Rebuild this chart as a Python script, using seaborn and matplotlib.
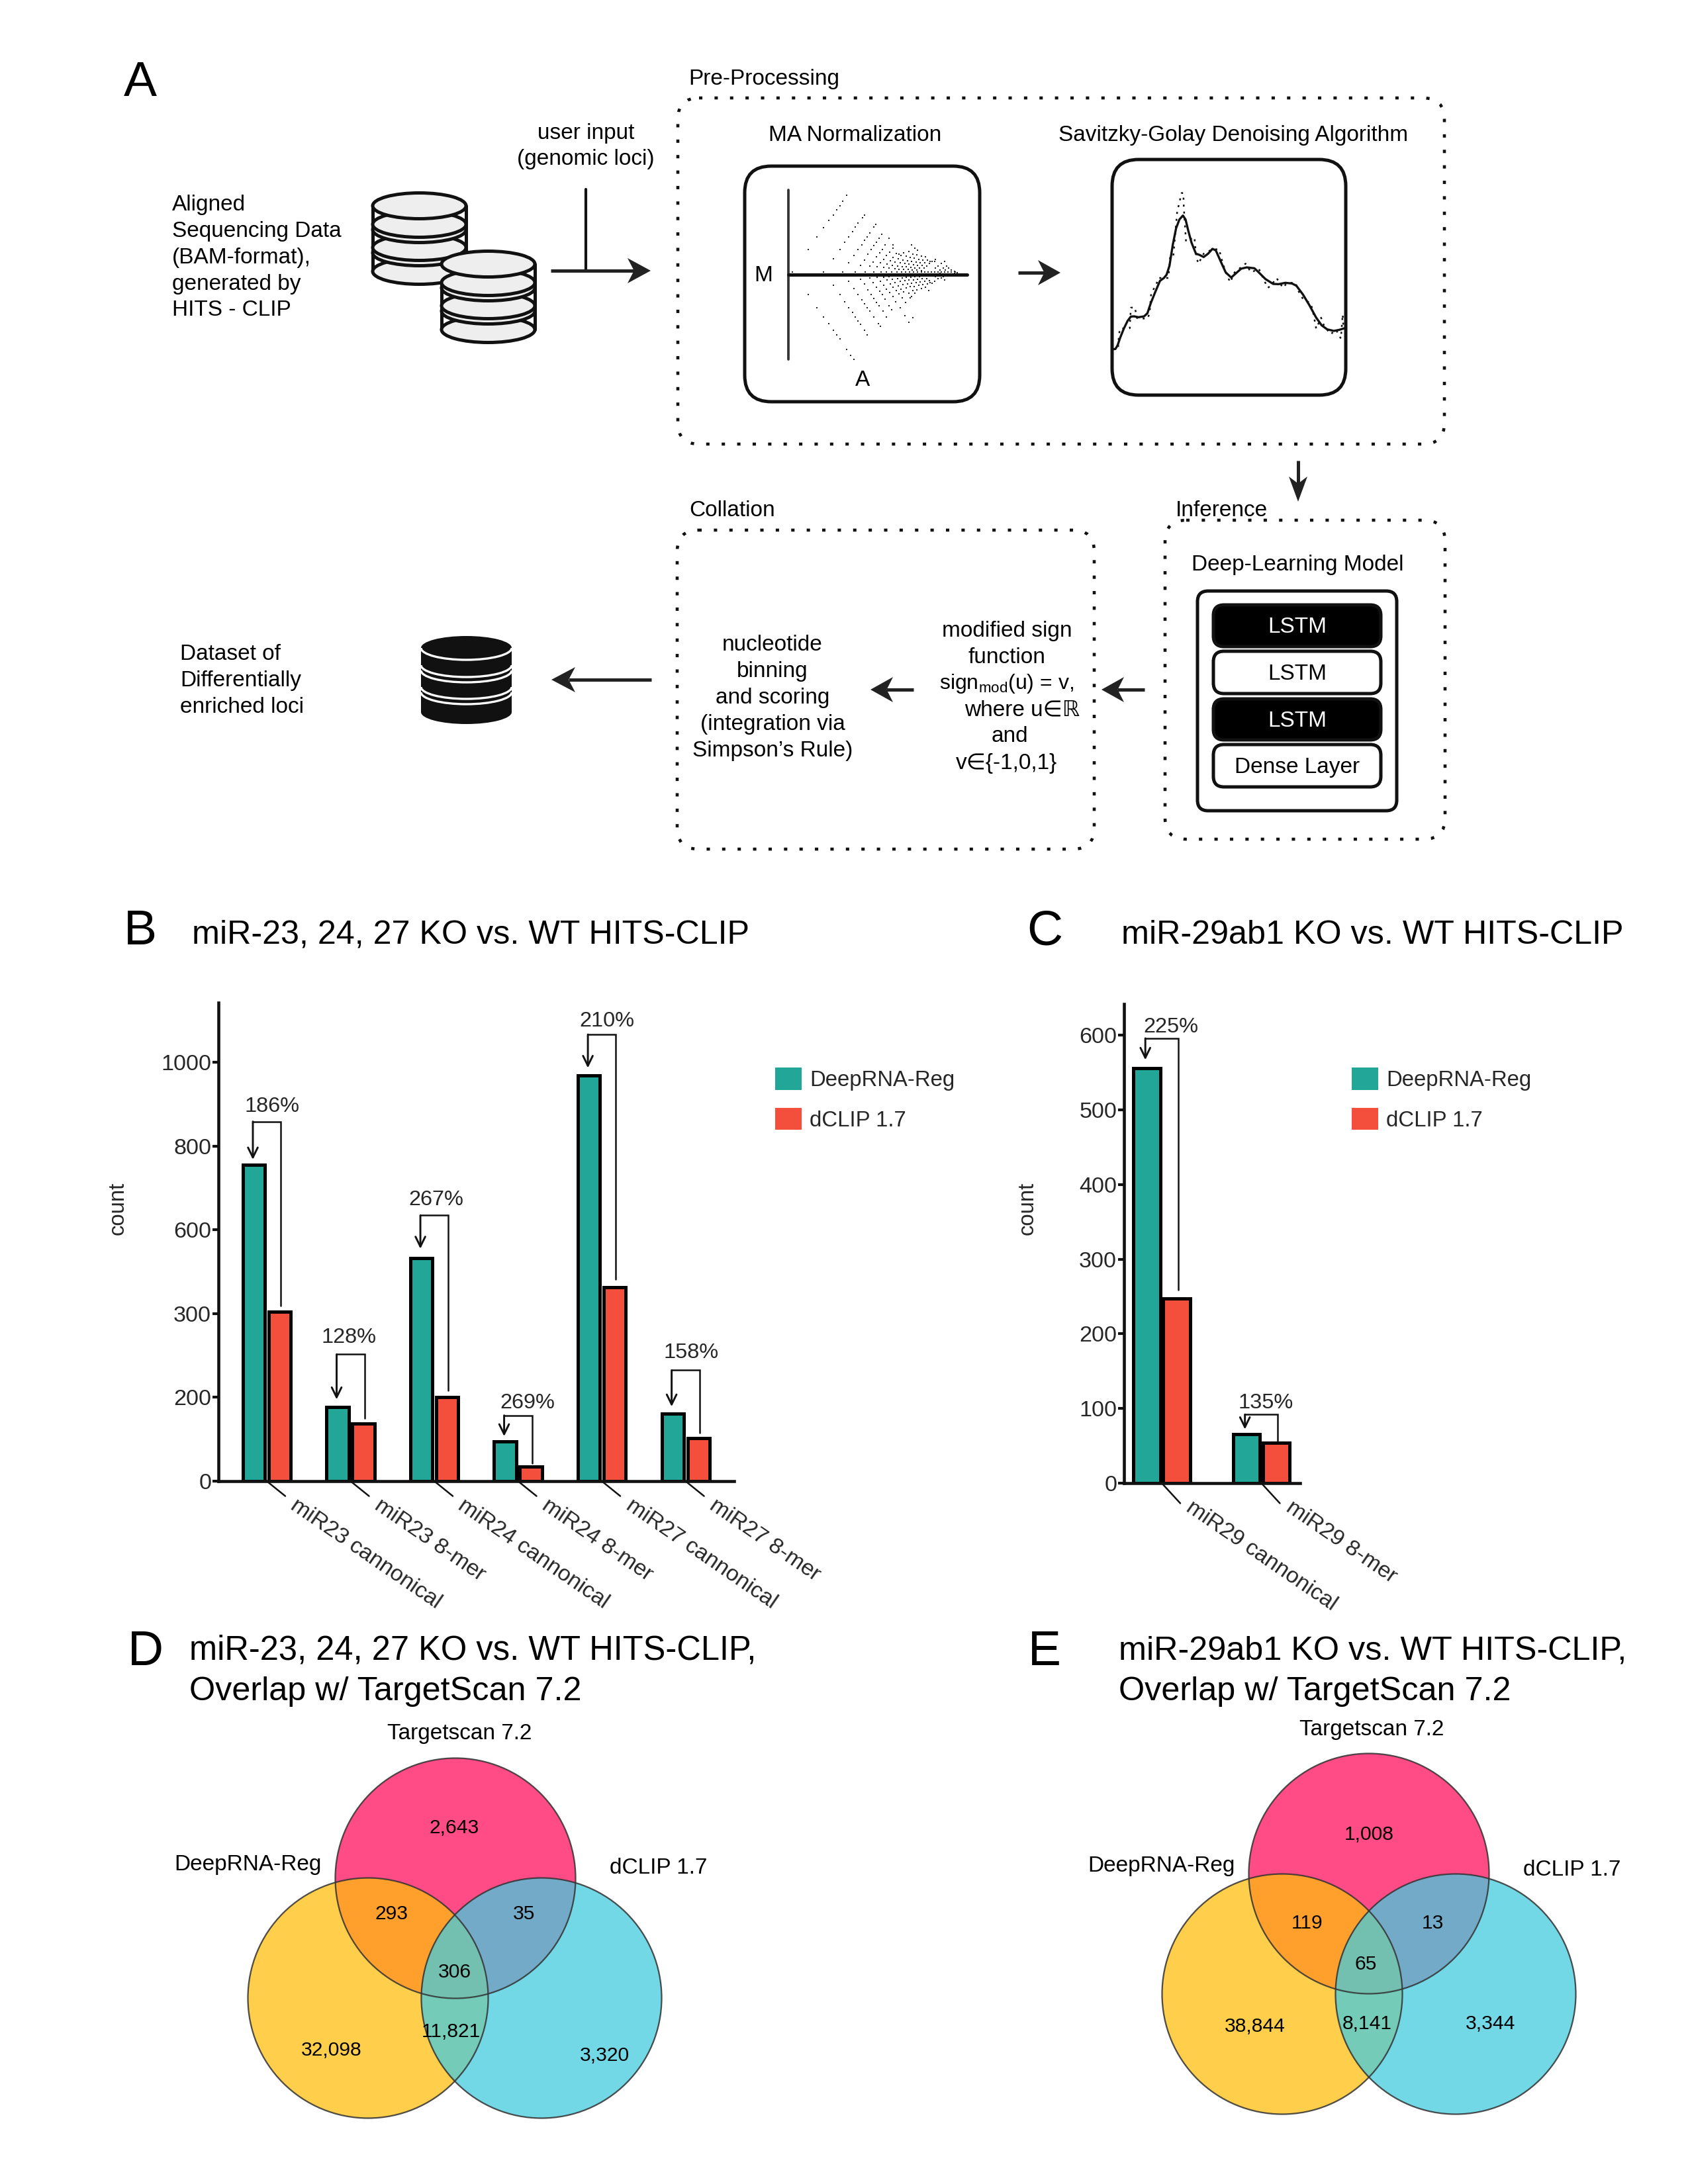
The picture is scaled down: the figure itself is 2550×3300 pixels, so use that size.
import matplotlib
matplotlib.use("Agg")
import matplotlib.pyplot as plt
import pandas as pd
import seaborn as sns
from matplotlib.patches import Arc, Circle, Ellipse, FancyBboxPatch, Patch, Polygon, Rectangle
from matplotlib.transforms import ScaledTranslation

# ---------------- data ----------------
tools = ["DeepRNA-Reg", "dCLIP 1.7"]
tool_colors = ["#22A698", "#F44E3C"]

b_categories = ["miR23 cannonical", "miR23 8-mer", "miR24 cannonical",
                "miR24 8-mer", "miR27 cannonical", "miR27 8-mer"]
b_deep = [755, 177, 532, 95, 969, 161]
b_dclip = [405, 137, 200, 35, 463, 102]
b_pct = ["186%", "128%", "267%", "269%", "210%", "158%"]
b_top = [859, 303, 635, 157, 1067, 265]
b_tip = [768, 195, 555, 107, 987, 178]
b_end = [419, 150, 216, 42, 482, 116]
b_lab_y = [895, 343, 672, 186, 1098, 306]
b_lab_dx = [0.06, -0.02, 0.02, 0.11, 0.06, 0.07]
b_yticks = [0, 200, 400, 600, 800, 1000]
b_yticklabels = ["0", "200", "300", "600", "800", "1000"]

c_categories = ["miR29 cannonical", "miR29 8-mer"]
c_deep = [556, 66]
c_dclip = [247, 54]
c_pct = ["225%", "135%"]
c_top = [596, 92]
c_tip = [567, 72]
c_end = [259, 57]
c_lab_y = [611, 107]
c_lab_dx = [0.095, 0.047]
c_yticks = [0, 100, 200, 300, 400, 500, 600]

venn_names = ["Targetscan 7.2", "DeepRNA-Reg", "dCLIP 1.7"]
venn_colors = [(255/255, 14/255, 93/255), (255/255, 190/255, 15/255), (68/255, 203/255, 222/255)]
venn_d_values = ["2,643", "293", "35", "306", "11,821", "32,098", "3,320"]
venn_e_values = ["1,008", "119", "13", "65", "8,141", "38,844", "3,344"]

lstm_layers = ["LSTM", "LSTM", "LSTM", "Dense Layer"]

# MA plot dots: abscissa / ordinate read from the schematic
ma_row_a = [50, 193, 278, 335, 382, 421, 452, 478, 500, 525, 545, 565, 583, 600, 618, 635, 650,
            665, 680, 695, 710, 725, 740, 755, 770, 790]
ma_up = [(122,291),(163,233),(193,191),(215,158),(236,134),(251,111),(266,92),(279,73),(296,44),
         (236,333),(266,291),(289,259),(306,233),(324,210),(336,190),(348,172),(368,148),(378,134),
         (306,350),(330,319),(348,291),(366,269),(378,250),(391,233),(402,216),(421,190),(428,178),
         (360,362),(378,339),(393,312),(408,291),(421,273),(433,257),(445,240),(456,222),
         (402,365),(418,347),(432,325),(447,307),(460,291),(472,270),(488,240),
         (436,370),(450,352),(465,335),(478,318),(492,302),(507,285),(507,270),
         (465,372),(480,358),(495,342),(508,327),(522,310),(535,312),
         (490,375),(503,362),(516,348),(530,333),(543,318),(555,305),
         (515,378),(527,366),(540,352),(553,338),(566,322),(578,300),(590,270),
         (535,380),(548,368),(560,355),(573,342),(585,328),(597,312),(605,285),
         (555,380),(568,370),(580,358),(592,345),(604,330),(615,315),(618,295),
         (575,382),(588,372),(600,360),(612,348),(624,335),(636,320),
         (595,384),(607,374),(619,362),(631,350),(643,338),(655,325),
         (615,385),(627,375),(639,364),(651,352),(663,340),(675,345),(698,335),
         (635,386),(647,376),(659,366),(671,355),(683,345),(695,345),
         (700,375),(712,365),(725,355),(740,345),(735,375),(750,365),(760,375),(770,385),
         (720,385),(745,385),(785,390),(797,395)]
ma_low = [(122,495),(163,554),(193,597),(215,628),(236,657),(251,678),(266,696),(296,743),(315,770),(330,790),
          (236,453),(266,494),(289,527),(306,554),(324,577),(336,597),(348,614),(361,630),(378,657),(391,678),
          (306,436),(330,468),(348,494),(366,518),(378,537),(391,554),(402,570),(421,597),(441,628),(451,638),
          (360,425),(378,448),(393,475),(408,494),(421,512),(433,530),(445,547),(462,570),(478,597),
          (402,420),(418,440),(432,462),(447,480),(460,494),(472,515),(488,545),(500,565),
          (436,416),(450,436),(465,452),(478,470),(492,485),(507,503),(520,527),(540,555),(560,590),(580,622),
          (465,416),(480,430),(495,446),(508,461),(522,478),(535,492),(548,510),(565,530),(596,600),
          (490,413),(503,426),(516,440),(530,455),(543,470),(555,483),(584,510),
          (515,410),(527,422),(540,436),(553,450),(566,466),(578,488),(590,505),
          (535,408),(548,420),(560,433),(573,446),(585,460),(597,476),(605,490),
          (555,408),(568,418),(580,430),(592,443),(604,458),(615,473),
          (575,406),(588,416),(600,428),(612,440),(624,453),(636,468),
          (595,404),(607,414),(619,426),(631,438),(643,450),(655,463),(668,478),
          (615,403),(627,413),(639,424),(651,436),(663,448),(675,440),
          (635,402),(647,412),(659,422),(671,433),(683,443),(695,435),
          (700,413),(712,423),(725,420),(740,430),(735,413),(750,410),(760,405),(770,408),
          (720,400),(745,403),(785,398),(797,410)]

# Savitzky-Golay picture: smoothed and raw trace read from the schematic
sg_x = [18,30,40,52,68,85,100,115,135,160,175,190,210,232,250,262,275,290,305,320,336,348,360,375,395,
        410,430,450,470,485,505,530,555,575,600,625,660,680,710,745,770,800,830,850,880,910,940,965,990,
        1020,1045,1068]
sg_y = [773,772,755,720,680,645,625,624,628,624,610,565,515,463,450,435,395,300,225,185,167,185,235,290,340,
        345,355,340,318,325,370,425,448,430,408,402,406,425,455,477,478,472,475,485,525,575,630,665,683,
        690,685,678]
raw_x = [18,42,45,50,70,95,100,118,128,175,185,192,215,225,270,278,292,310,330,338,340,350,388,395,405,417,
         430,470,500,510,525,550,570,620,645,680,720,735,760,790,805,845,860,880,915,925,940,962,975,1005,
         1030,1052,1060,1063]
raw_y = [773,770,722,680,678,678,585,583,632,635,610,520,480,450,450,355,355,150,65,65,130,285,265,340,385,365,
         340,320,320,360,410,470,425,385,425,408,495,485,450,495,475,470,510,545,565,600,680,630,665,705,
         685,725,615,665]

# ---------------- style ----------------
sns.set_theme(style="ticks")
plt.rcParams["font.family"] = ["Liberation Sans", "DejaVu Sans"]
plt.rcParams["mathtext.fontset"] = "custom"
plt.rcParams["mathtext.rm"] = "Liberation Sans"
plt.rcParams["mathtext.default"] = "rm"
W, H = 2550, 3300
BLACK = "#111111"
fig = plt.figure(figsize=(8.5, 11), dpi=300, facecolor="white")


def px_axes(x0, y0, x1, y1, **kw):
    return fig.add_axes([x0 / W, 1 - y1 / H, (x1 - x0) / W, (y1 - y0) / H], **kw)


ov = fig.add_axes([0, 0, 1, 1])
ov.set_xlim(0, W)
ov.set_ylim(H, 0)
ov.axis("off")


def T(x, y, s, size=8, ha="center", va="center", color="black", **kw):
    if va == "center":
        y = y + 2.5
    ov.text(x, y, s, fontsize=size, ha=ha, va=va, color=color, **kw)


def rbox(x0, y0, x1, y1, r, lw=1.2, fc="none", ec=BLACK, ls="-", z=2):
    ov.add_patch(FancyBboxPatch((x0, y0), x1 - x0, y1 - y0,
                                boxstyle=f"round,pad=0,rounding_size={r}",
                                fc=fc, ec=ec, lw=lw, ls=ls, zorder=z))


def dotted(x0, y0, x1, y1, r=32):
    rbox(x0, y0, x1, y1, r, lw=1.1, ls=(0, (1.1, 4.0)))


def arrow(x_tail, y_tail, x_tip, y_tip, length, half, lw=1.2):
    dx, dy = x_tip - x_tail, y_tip - y_tail
    n = (dx ** 2 + dy ** 2) ** 0.5
    ux, uy = dx / n, dy / n
    bx, by = x_tip - ux * length, y_tip - uy * length
    nx, ny = bx + ux * length * 0.28, by + uy * length * 0.28
    ov.plot([x_tail, nx], [y_tail, ny], color="#222222", lw=lw, solid_capstyle="butt", zorder=3)
    ov.add_patch(Polygon([(x_tip, y_tip), (bx - uy * half, by + ux * half), (nx, ny),
                          (bx + uy * half, by - ux * half)], closed=True, fc="#222222", ec="none", zorder=4))


def database(left, right, centers, h):
    cx = (left + right) / 2
    w = right - left
    top, second, third, bottom = centers
    ov.add_patch(Rectangle((left, top), w, bottom - top, fc="white", ec="none", zorder=5))
    for xs in (left, right):
        ov.plot([xs, xs], [top, bottom], color=BLACK, lw=1.2, zorder=5)
    for c in (bottom, third + 8, third, second + 8, second, top):
        ov.add_patch(Ellipse((cx, c), w, h, fc="#EEEEEE", ec=BLACK, lw=1.2, zorder=6))


def dark_database(left, right, centers, h):
    cx = (left + right) / 2
    w = right - left
    top, second, third, bottom = centers
    ov.add_patch(Rectangle((left, top), w, bottom - top, fc=BLACK, ec="none", zorder=5))
    for c in (bottom, third, second, top):
        ov.add_patch(Ellipse((cx, c), w, h, fc=BLACK, ec="none", zorder=6))
    for c in (third + 8, third, second + 8, second, top):
        ov.add_patch(Arc((cx, c), w, h, theta1=0, theta2=180, ec="white", lw=0.8, zorder=7))


# ---------------- panel A ----------------
T(187, 145, "A", size=18, ha="left", va="baseline")
for yy, s in zip([307, 347, 387, 427, 466],
                 ["Aligned", "Sequencing Data", "(BAM-format),", "generated by", "HITS - CLIP"]):
    T(260, yy, s, ha="left")
T(885, 199, "user input")
T(885, 238, "(genomic loci)")
database(563, 704, [311, 339, 374, 410], 39)
database(667, 808, [399, 427, 462, 498], 39)
ov.plot([885, 885], [286, 409], color=BLACK, lw=1.0, zorder=3)
arrow(832, 409, 983, 409, 35, 19)

T(1040, 117, "Pre-Processing", ha="left")
dotted(1024, 148, 2182, 671)
T(1292, 202, "MA Normalization")
T(1863, 202, "Savitzky-Golay Denoising Algorithm")
rbox(1125, 251, 1480, 607, 40)
rbox(1680, 241, 2033, 597, 40)
T(1153, 414, "M")
T(1303, 572, "A")
arrow(1538, 412, 1602, 412, 34, 19)
arrow(1961, 696, 1961, 758, 38, 14)

T(1776, 769, "Inference", ha="left")
dotted(1760, 786, 2183, 1268)
T(1960, 851, "Deep-Learning Model")
rbox(1809, 893, 2110, 1225, 16)
layer_boxes = [(914, 977), (984, 1048), (1056, 1118), (1125, 1189)]
for i, (name, (y0, y1)) in enumerate(zip(lstm_layers, layer_boxes)):
    dark = i % 2 == 0
    rbox(1833, y0, 2086, y1, 16, fc="black" if dark else "white", z=3)
    T(1960, (y0 + y1) / 2, name, color="white" if dark else "black", zorder=6)

T(1041, 769, "Collation", ha="left")
dotted(1023, 801, 1653, 1283)
for yy, s in zip([972, 1012, 1052, 1092, 1132],
                 ["nucleotide", "binning", "and scoring", "(integration via", "Simpson\u2019s Rule)"]):
    T(1167, yy, s)
T(1521, 951, "modified sign")
T(1521, 991, "function")
T(1521, 1031, "sign$_{\\mathrm{mod}}$(u) = v,", size=7.7)
T(1544, 1070, "where u\u2208\u211d")
T(1525, 1110, "and")
T(1521, 1151, "v\u2208{-1,0,1}")
arrow(1729, 1042, 1664, 1042, 34, 19)
arrow(1380, 1042, 1315, 1042, 34, 19)
arrow(984, 1027, 833, 1027, 36, 19)
dark_database(636, 773, [979, 1005, 1038, 1076], 36)
for yy, s in zip([986, 1026, 1066], ["Dataset of", "Differentially", "enriched loci"]):
    T(272, yy, s, ha="left")

# MA inset
ma = px_axes(1180, 280, 1470, 550, facecolor="none")
ma.plot([32, 32], [20, 790], color="#333333", lw=0.9)
ma.plot([32, 843], [404, 404], color=BLACK, lw=1.2)
ma_x = ma_row_a + [p[0] for p in ma_up] + [p[0] for p in ma_low]
ma_y = [394] * len(ma_row_a) + [p[1] for p in ma_up] + [p[1] for p in ma_low]
sns.scatterplot(x=ma_x, y=ma_y, ax=ma, marker="s", s=0.4, color="#222222", linewidth=0, legend=False)
ma.set_xlim(0, 870)
ma.set_ylim(810, 0)
ma.axis("off")

# Savitzky-Golay inset
sg = px_axes(1675, 270, 2035, 570, facecolor="none")
sns.lineplot(x=raw_x, y=raw_y, ax=sg, sort=False, estimator=None, errorbar=None, color=BLACK, lw=0.6,
             ls=(0, (1.2, 3.0)), legend=False)
sns.lineplot(x=sg_x, y=sg_y, ax=sg, sort=False, estimator=None, errorbar=None, color=BLACK, lw=0.8, legend=False)
sg.set_xlim(0, 1080)
sg.set_ylim(900, 0)
sg.axis("off")


# ---------------- bar panels ----------------
def bar_panel(box, cats, deep, dclip, pct, top, tip, end, lab_y, lab_dx, xlim, ylim, width, gap,
              yticks, yticklabels, tick_d, label_dx_px, arm, ylabel_xy, legend_at):
    df = pd.DataFrame({"category": cats * 2,
                       "count": deep + dclip,
                       "tool": [tools[0]] * len(cats) + [tools[1]] * len(cats)})
    ax = px_axes(*box, facecolor="none")
    sns.barplot(data=df, x="category", y="count", hue="tool", palette=tool_colors, width=width, gap=gap,
                edgecolor="black", linewidth=1.2, saturation=1, ax=ax, legend=False)
    ax.set_xlim(*xlim)
    ax.set_ylim(*ylim)
    sns.despine(ax=ax)
    for s in ("left", "bottom"):
        ax.spines[s].set_linewidth(1.1)
        ax.spines[s].set_color(BLACK)
    ax.set_yticks(yticks)
    ax.set_yticklabels(yticklabels, fontsize=8.2)
    ax.tick_params(axis="y", length=2.2, width=1.0, pad=0.4, color=BLACK)
    ax.set_xlabel("")
    ax.set_ylabel("count", fontsize=7.9, labelpad=0)
    ax.yaxis.set_label_coords(*ylabel_xy)
    ax.set_xticks(range(len(cats)))
    ax.set_xticklabels(cats, rotation=-34.5, ha="left", va="top", rotation_mode="anchor", fontsize=8.1)
    ax.tick_params(axis="x", length=0, pad=5.0)
    off = ScaledTranslation(label_dx_px / 300, 0, fig.dpi_scale_trans)
    for lab in ax.get_xticklabels():
        lab.set_transform(lab.get_transform() + off)
    for i in range(len(cats)):
        ax.plot([i, i + tick_d[0]], [0, tick_d[1]], color=BLACK, lw=0.6, clip_on=False, zorder=5)
        xa, xr = i - arm, i + arm
        ax.plot([xr, xr, xa], [end[i], top[i], top[i]], color=BLACK, lw=0.6, solid_joinstyle="miter",
                clip_on=False, zorder=5)
        ax.annotate("", xy=(xa, tip[i]), xytext=(xa, top[i]),
                    arrowprops=dict(arrowstyle="->,head_length=0.45,head_width=0.22", lw=0.7, color=BLACK,
                                    shrinkA=0, shrinkB=0, mutation_scale=8))
        ax.text(i + lab_dx[i], lab_y[i], pct[i], fontsize=7.8, ha="center", va="center", clip_on=False)
    ax.legend(handles=[Patch(fc=c, ec="none", lw=0) for c in tool_colors], labels=tools,
              loc="upper left", bbox_to_anchor=(legend_at[0] / W, 1 - legend_at[1] / H),
              bbox_transform=fig.transFigure, frameon=False, fontsize=7.9, borderpad=0, borderaxespad=0,
              handlelength=1.2, handleheight=1.2, labelspacing=0.78, handletextpad=0.38)
    return ax


bar_panel((330, 1515, 1109, 2238), b_categories, b_deep, b_dclip, b_pct, b_top, b_tip, b_end, b_lab_y, b_lab_dx,
          (-0.577, 5.58), (0, 1143), 0.617, 0.15, b_yticks, b_yticklabels, (0.221, -35.7), 48, 0.166,
          ((194 - 330) / 779, (2238 - 1826) / 723), (1171, 1613))
bar_panel((1698, 1517, 1964, 2241), c_categories, c_deep, c_dclip, c_pct, c_top, c_tip, c_end, c_lab_y, c_lab_dx,
          (-0.379, 1.389), (0, 642), 0.6, 0.1, c_yticks, [str(v) for v in c_yticks], (0.186, -27), 49, 0.165,
          ((1568 - 1698) / 266, (2241 - 1826) / 724), (2042, 1613))

T(187, 1427, "B", size=18, ha="left", va="baseline")
T(290, 1426, "miR-23, 24, 27 KO vs. WT HITS-CLIP", size=12.05, ha="left", va="baseline")
T(1551, 1427, "C", size=18, ha="left", va="baseline")
T(1694, 1426, "miR-29ab1 KO vs. WT HITS-CLIP", size=12.05, ha="left", va="baseline")

T(193, 2516, "D", size=18, ha="left", va="baseline")
T(286, 2508, "miR-23, 24, 27 KO vs. WT HITS-CLIP,", size=12.15, ha="left", va="baseline")
T(286, 2569, "Overlap w/ TargetScan 7.2", size=12.1, ha="left", va="baseline")
T(1553, 2516, "E", size=18, ha="left", va="baseline")
T(1690, 2508, "miR-29ab1 KO vs. WT HITS-CLIP,", size=12.1, ha="left", va="baseline")
T(1690, 2569, "Overlap w/ TargetScan 7.2", size=12.1, ha="left", va="baseline")


# ---------------- venn diagrams ----------------
def venn(centers, r, values, value_xy, name_xy):
    for (cx, cy), col in zip(centers, venn_colors):
        ov.add_patch(Circle((cx, cy), r, fc=col, alpha=0.75, ec="none", zorder=2))
    for cx, cy in centers:
        ov.add_patch(Circle((cx, cy), r, fc="none", ec="#333333", lw=0.55, alpha=0.85, zorder=3))
    for v, (x, y) in zip(values, value_xy):
        T(x, y, v, size=7.2, zorder=6)
    for n, (x, y) in zip(venn_names, name_xy):
        T(x, y, n, size=8)


venn([(688, 2838), (556, 3019), (818, 3019)], 181.5, venn_d_values,
     [(686, 2760), (591, 2890), (792, 2890), (687, 2978), (681, 3068), (501, 3095), (913, 3104)],
     [(694, 2617), (374, 2815), (995, 2820)])
venn([(2068, 2831), (1937, 3013), (2199, 3013)], 181.5, venn_e_values,
     [(2068, 2769), (1975, 2904), (2164, 2904), (2063, 2966), (2065, 3055), (1896, 3060), (2252, 3055)],
     [(2072, 2611), (1754, 2817), (2375, 2823)])

fig.savefig("out.png", dpi=300, facecolor="white")
